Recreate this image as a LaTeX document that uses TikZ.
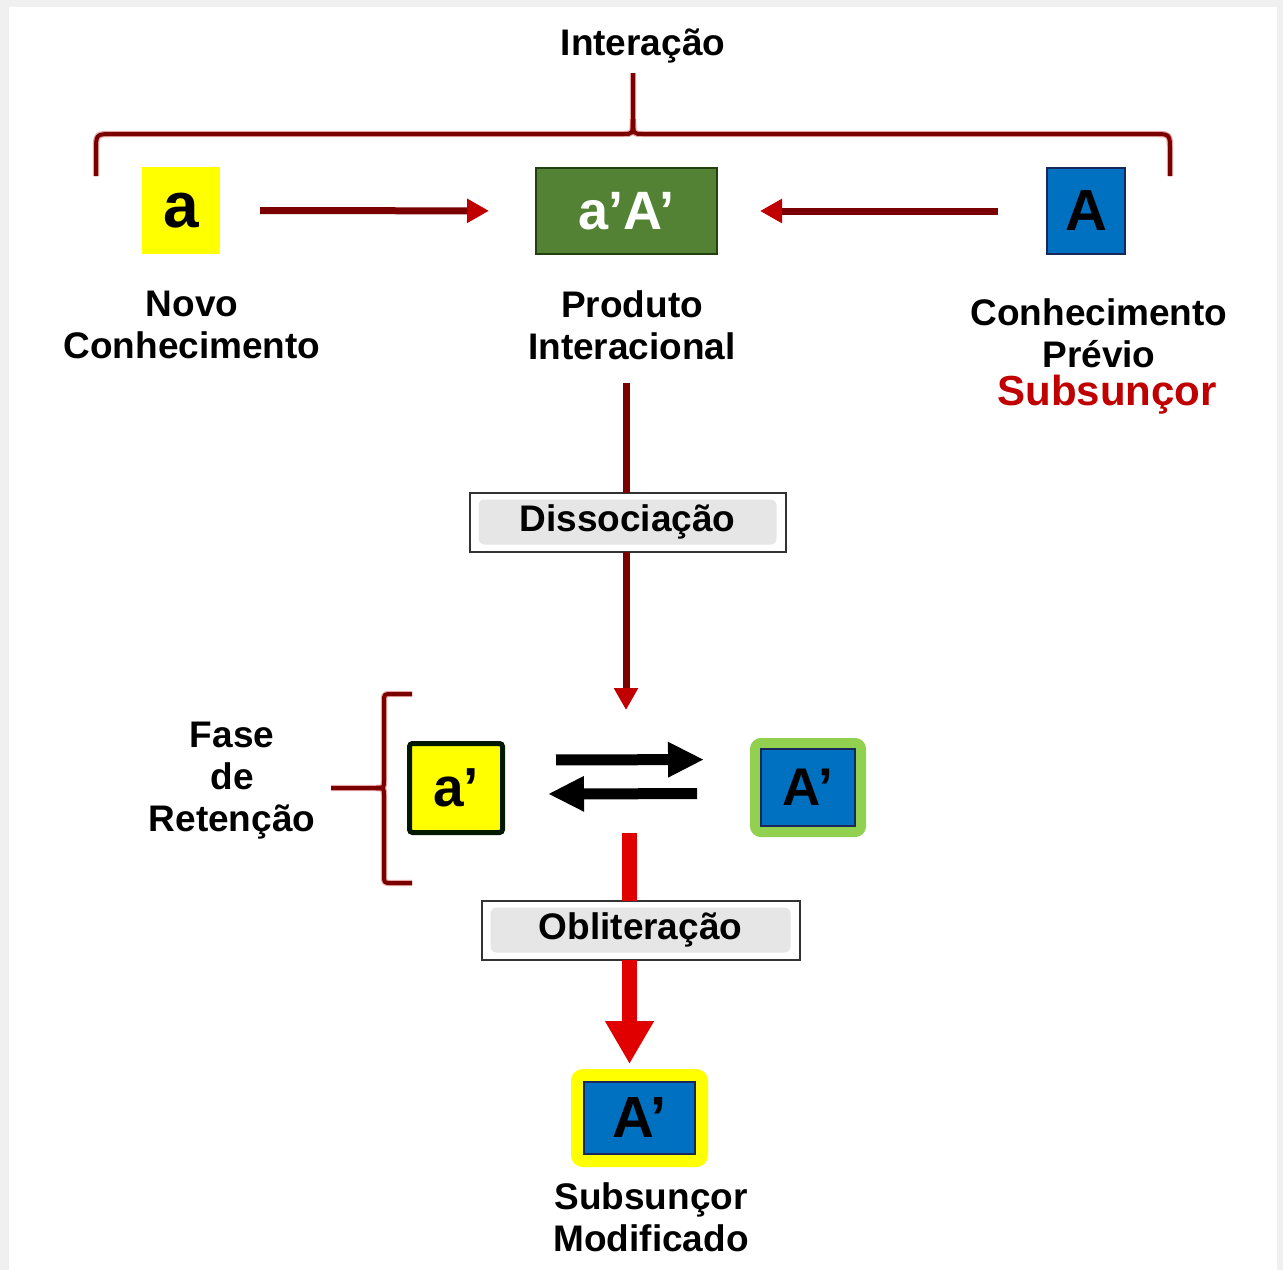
\documentclass[tikz,border=0pt]{standalone}
\usepackage{fontspec}
\setmainfont{Liberation Sans}
\usetikzlibrary{arrows.meta}

\definecolor{pagegray}{HTML}{F0F0F0}
\definecolor{bracered}{HTML}{7A0000}
\definecolor{headred}{HTML}{C00000}
\definecolor{brightred}{HTML}{E00000}
\definecolor{boxyellow}{HTML}{FFFF00}
\definecolor{boxgreen}{HTML}{548235}
\definecolor{boxgreenedge}{HTML}{23400F}
\definecolor{boxblue}{HTML}{0070C0}
\definecolor{boxblueedge}{HTML}{18285A}
\definecolor{lightgreen}{HTML}{92D050}
\definecolor{labelgray}{HTML}{E6E6E6}

\newcommand{\lblfont}{\fontsize{18.5pt}{21pt}\selectfont\bfseries}

\begin{document}
\begin{tikzpicture}[x=0.5pt,y=-0.5pt,
  every node/.style={inner sep=0pt, outer sep=0pt},
  lbl/.style={font=\lblfont, align=center, text=black},
  tile/.style={minimum width=#1, font=\bfseries},
  procbox/.style={draw=black!80, line width=1pt, fill=white,
    minimum width=158pt, minimum height=29.5pt, font=\lblfont,
    path picture={\fill[labelgray, rounded corners=3pt]
      ([shift={(9,7)}]path picture bounding box.north west) rectangle
      ([shift={(-9,-7)}]path picture bounding box.south east);}},
  thinarrow/.style={draw=bracered, line width=3.5pt,
    -{Triangle[length=11pt,width=11.5pt,color=headred]}},
  blackarrow/.style={draw=black, line width=5.5pt,
    -{Triangle[length=18pt,width=16.5pt]}},
  bigarrow/.style={draw=brightred, line width=7.5pt,
    -{Triangle[length=21.5pt,width=23pt]}},
  bracket/.style={draw=bracered, line width=2pt, line join=round},
  brackethalo/.style={draw=red!70!black, line width=3.2pt, opacity=0.35, line join=round}
]
\useasboundingbox (0,0) rectangle (1283,1270);
% page frame
\fill[pagegray] (0,0) rectangle (1283,1270);
\fill[white] (9,7) rectangle (1277,1270);

% ---------- top row ----------
\node[lbl, anchor=base] (inter) at (643,55) {Interação};

\foreach \st in {brackethalo,bracket}{
  \draw[\st] (96,176) -- (96,151) .. controls (96,134) .. (113,134)
    -- (623,134) .. controls (633,134) .. (633,119) -- (633,73);
  \draw[\st] (633,119) .. controls (633,134) .. (643,134)
    -- (1154,134) .. controls (1170,134) .. (1170,151) -- (1170,176);
}

\node[fill=boxyellow, minimum width=39pt, minimum height=43.5pt,
      font=\fontsize{32pt}{32pt}\selectfont\bfseries] (a) at (181,210.5) {a};
\node[fill=boxgreen, draw=boxgreenedge, line width=1pt,
      minimum width=90.5pt, minimum height=43pt, text=white,
      font=\fontsize{27pt}{27pt}\selectfont\bfseries] (aA) at (626.5,211) {a’A’};
\node[fill=boxblue, draw=boxblueedge, line width=1pt,
      minimum width=39pt, minimum height=43pt,
      font=\fontsize{29pt}{29pt}\selectfont\bfseries] (A) at (1086,211) {A};

\draw[thinarrow, shorten <=20pt, shorten >=23.5pt] (a) -- (aA);
\draw[thinarrow, shorten <=24.5pt, shorten >=21.5pt] (A) -- (aA);

\node[lbl] (novo) at (192,325) {Novo\\Conhecimento};
\node[lbl] (prod) at (632,325) {Produto\\Interacional};
\node[lbl] (prev) at (1099,333) {Conhecimento\\Prévio};
\node[anchor=base, text=headred, font=\fontsize{21pt}{21pt}\selectfont\bfseries]
  (subs) at (1107,405) {Subsunçor};

% ---------- dissociation ----------
\coordinate (d0) at (626,383);
\node[procbox] (diss) at (627.5,522) {Dissociação};
\draw[draw=bracered, line width=3.5pt] (d0) -- (d0 |- diss.north);
\coordinate (d1) at (626,710);
\draw[thinarrow] (d0 |- diss.south) -- (d1);

% ---------- retention phase ----------
\node[fill=boxyellow, draw=black!90!green, line width=2.5pt, rounded corners=1.5pt,
      minimum width=46.5pt, minimum height=44.5pt,
      font=\fontsize{27.5pt}{27.5pt}\selectfont\bfseries] (ap) at (456,788) {a’};
\node[fill=boxblue, draw=lightgreen, line width=5pt, rounded corners=3pt,
      minimum width=53pt, minimum height=44.5pt,
      font=\fontsize{26.5pt}{26.5pt}\selectfont\bfseries] (Am) at (808,787.5) {A’};
\draw[boxblueedge, line width=1pt] ([shift={(6,6)}]Am.north west) rectangle ([shift={(-6,-6)}]Am.south east);

\draw[blackarrow, shorten <=26.75pt, shorten >=25.5pt] ([yshift=14pt]ap.east) -- ([yshift=14pt]Am.west);
\draw[blackarrow, shorten <=29pt, shorten >=22.75pt] ([yshift=-3pt]Am.west) -- ([yshift=-3pt]ap.east);

\foreach \st in {brackethalo,bracket}{
  \draw[\st] (412,694) -- (392,694) .. controls (384,694) .. (384,702)
    -- (384,780) .. controls (384,788) .. (376,788) -- (331,788);
  \draw[\st] (412,883) -- (392,883) .. controls (384,883) .. (384,875)
    -- (384,796) .. controls (384,788) .. (376,788);
}
\node[lbl] (fase) at (232,781) {Fase\\de\\Retenção};

% ---------- obliteration ----------
\coordinate (o0) at (629.5,833);
\node[procbox, minimum width=159pt] (obl) at (640.5,930) {Obliteração};
\draw[draw=brightred, line width=7.5pt] (o0) -- (o0 |- obl.north);
\node[fill=boxblue, draw=boxyellow, line width=6pt, rounded corners=3pt,
      minimum width=62.5pt, minimum height=43pt,
      font=\fontsize{29pt}{29pt}\selectfont\bfseries] (Af) at (639.5,1118) {A’};
\draw[boxblueedge, line width=1pt] ([shift={(7,7)}]Af.north west) rectangle ([shift={(-7,-7)}]Af.south east);
\draw[bigarrow, shorten >=5.5pt] (o0 |- obl.south) -- (o0 |- Af.north);

\node[lbl] (mod) at (651,1217) {Subsunçor\\Modificado};
\end{tikzpicture}
\end{document}
